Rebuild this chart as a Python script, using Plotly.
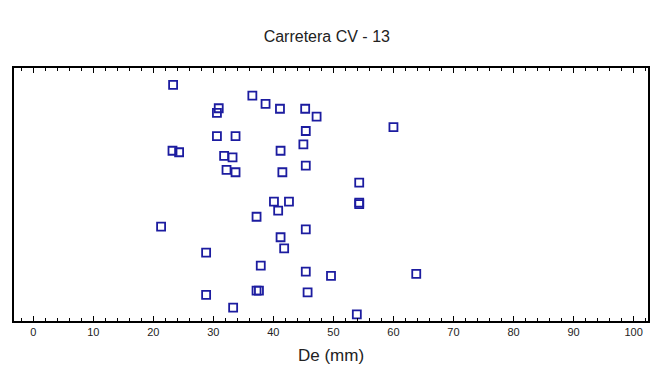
import plotly.graph_objects as go

# De (mm) values
de_mm = [23.3, 36.5, 38.7, 41.1, 45.3, 47.2, 30.9, 30.6, 30.6, 33.7,
         45.4, 45.0, 23.2, 24.3, 41.2, 31.8, 33.2, 45.4, 32.2, 33.7,
         41.5, 40.1, 42.6, 40.8, 37.2, 21.3, 45.4, 41.2, 41.8, 28.8,
         37.9, 45.4, 49.6, 37.2, 37.6, 28.8, 45.7, 33.3, 60.0, 54.3,
         54.3, 54.3, 63.8, 53.9]
# vertical position (unlabelled axis, relative units 0-100)
pos = [93.3, 89.1, 85.8, 83.9, 83.9, 80.8, 84.1, 82.3, 73.1, 73.1,
       75.1, 69.8, 67.3, 66.7, 67.3, 65.3, 64.7, 61.4, 59.7, 58.8,
       58.8, 47.2, 47.2, 43.6, 41.2, 37.3, 36.2, 33.1, 28.7, 27.0,
       21.9, 19.5, 17.8, 12.0, 12.0, 10.3, 11.3, 5.3, 76.6, 54.7,
       46.8, 46.2, 18.6, 2.6]
x_ticks = list(range(0, 101, 10))

fig = go.Figure(go.Scatter(
    x=de_mm, y=pos, mode="markers",
    marker=dict(symbol="square-open", size=8, color="#1c1ca0",
                line=dict(width=1.8, color="#1c1ca0")),
    showlegend=False, cliponaxis=False, hoverinfo="skip"))

fig.update_layout(
    width=651, height=387,
    margin=dict(l=14, r=3, t=68, b=66),
    paper_bgcolor="white", plot_bgcolor="white",
    title=dict(text="Carretera CV - 13", x=0.502, xanchor="center",
               y=0.905, yanchor="middle",
               font=dict(family="Liberation Sans, Arial", size=16, color="#222")),
    xaxis=dict(range=[-3.2, 102.4], tickvals=x_ticks,
               ticktext=[str(v) for v in x_ticks], automargin=False,
               ticks="inside", ticklen=5, tickwidth=1, tickcolor="black",
               showline=True, linecolor="black", linewidth=2, mirror="ticks",
               showgrid=False, zeroline=False,
               minor=dict(dtick=2, tick0=0, ticks="inside", ticklen=3,
                          tickcolor="black", tickwidth=1),
               tickfont=dict(family="Liberation Sans Narrow, Liberation Sans", size=11, color="#222"),
               title=dict(text="De (mm)", standoff=12,
                          font=dict(family="Liberation Sans, Arial", size=17, color="#222"))),
    yaxis=dict(range=[0, 100], showticklabels=False, ticks="", automargin=False,
               showline=True, linecolor="black", linewidth=2, mirror=True,
               showgrid=False, zeroline=False),
)

fig.write_html("out.html", config={"displayModeBar": False},
               post_script="document.body.style.margin='0';document.body.style.overflow='hidden';")
